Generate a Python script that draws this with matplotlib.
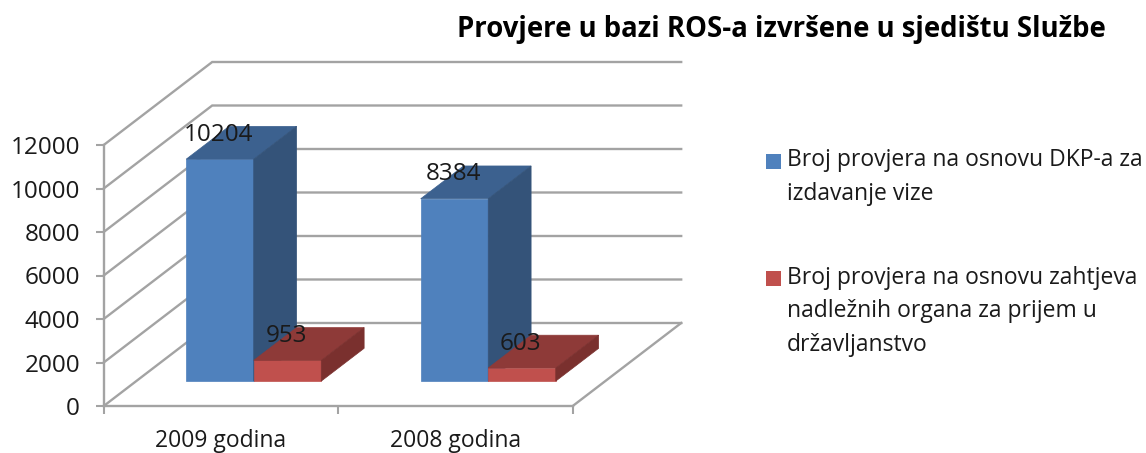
import matplotlib
matplotlib.use("Agg")
import matplotlib.pyplot as plt
from matplotlib.patches import Rectangle

plt.rcParams['font.family'] = ['Open Sans', 'DejaVu Sans']

categories = ["2009 godina", "2008 godina"]
dkp_values = [10204, 8384]
zahtjev_values = [953, 603]
value_ticks = [0, 2000, 4000, 6000, 8000, 10000, 12000]
title = "Provjere u bazi ROS-a izvršene u sjedištu Službe"
legend_labels = ["Broj provjera na osnovu DKP-a za\nizdavanje vize",
                 "Broj provjera na osnovu zahtjeva\nnadležnih organa za prijem u\ndržavljanstvo"]

W, H = 1146, 453
# pixel layout of the oblique box
X0, Y0 = 103.7, 406.0
CAT_PX = 234.5
VAL_PX = 261.0 / 12000
DEPTH_X = 108.5 / CAT_PX
DEPTH_Y = 83.0 / VAL_PX
BAR_W = 0.288
BAR_OFF = 0.213
D_FRONT, D_BACK = 0.30, 0.695

BLUE = ("#4F81BD", "#3C618F", "#345379")
RED = ("#C0504D", "#8E3A38", "#7A302E")
GRID = "#A3A3A3"


def proj(x, v, d=0.0):
    return x + d * DEPTH_X, v + d * DEPTH_Y


def draw_bar(ax, x, val, cols):
    x1 = x + BAR_W
    front = [proj(x, 0, D_FRONT), proj(x1, 0, D_FRONT), proj(x1, val, D_FRONT), proj(x, val, D_FRONT)]
    top = [proj(x, val, D_FRONT), proj(x1, val, D_FRONT), proj(x1, val, D_BACK), proj(x, val, D_BACK)]
    side = [proj(x1, 0, D_FRONT), proj(x1, 0, D_BACK), proj(x1, val, D_BACK), proj(x1, val, D_FRONT)]
    for pts, c in zip([front, top, side], cols):
        ax.fill(*zip(*pts), color=c, lw=0.5, zorder=3)
    cx, cy = proj(x + BAR_W / 2, val, D_FRONT)
    ax.annotate(str(val), (cx, cy), xytext=(-1, 17.5), textcoords="offset points",
                ha="center", va="center", fontsize=17.5, color="#1a1a1a", zorder=5)


fig = plt.figure(figsize=(W / 100, H / 100), dpi=100)
ax = fig.add_axes([0, 0, 1, 1])
ax.set_xlim(-X0 / CAT_PX, (W - X0) / CAT_PX)
ax.set_ylim((Y0 - H) / VAL_PX, Y0 / VAL_PX)
ax.patch.set_alpha(0)

n = len(categories)
for v in value_ticks:
    xs, ys = zip(proj(0, v), proj(0, v, 1), proj(n, v, 1))
    ax.plot(xs, ys, color=GRID, lw=1.7, zorder=1, solid_joinstyle="miter")
xs, ys = zip(proj(n, 0), proj(n, 0, 1))
ax.plot(xs, ys, color=GRID, lw=1.7, zorder=1)

for i in range(n):
    draw_bar(ax, i + BAR_OFF, dkp_values[i], BLUE)
    draw_bar(ax, i + BAR_OFF + BAR_W, zahtjev_values[i], RED)

# axes
for s in ["top", "right"]:
    ax.spines[s].set_visible(False)
ax.spines["left"].set_position(("data", 0))
ax.spines["left"].set_bounds(0, value_ticks[-1])
ax.spines["bottom"].set_position(("data", 0))
ax.spines["bottom"].set_bounds(0, n)
for s in ["left", "bottom"]:
    ax.spines[s].set_color(GRID)
    ax.spines[s].set_linewidth(1.7)
ax.set_yticks(value_ticks)
ax.set_xticks(range(n + 1))
ax.set_xticklabels([])
ax.set_xticks([i + 0.5 for i in range(n)], labels=categories, minor=True)
ax.tick_params(axis="y", length=6, width=1.5, color=GRID, pad=11, labelsize=17.5, labelcolor="#1a1a1a")
ax.tick_params(axis="x", which="major", length=6, width=1.5, color=GRID)
ax.tick_params(axis="x", which="minor", length=0, pad=16.5, labelsize=16.5, labelcolor="#1a1a1a")

fig.text(781.5 / W, 1 - 29 / H, title, ha="center", va="center", fontsize=19.8,
         fontweight="bold", color="black")

# legend drawn by hand, the marker sits on the first line
leg_y = [161.5, 278]
leg_text_y = [148.5, 265.5]
for lab, c, ym, yt in zip(legend_labels, [BLUE[0], RED[0]], leg_y, leg_text_y):
    fig.patches.append(Rectangle((766 / W, 1 - (ym + 7.5) / H), 15 / W, 15 / H,
                                 transform=fig.transFigure, color=c, lw=0))
    fig.text(787 / W, 1 - yt / H, lab, ha="left", va="top", fontsize=16.5,
             color="#1a1a1a", linespacing=1.55)

fig.savefig("out.png", dpi=100)
